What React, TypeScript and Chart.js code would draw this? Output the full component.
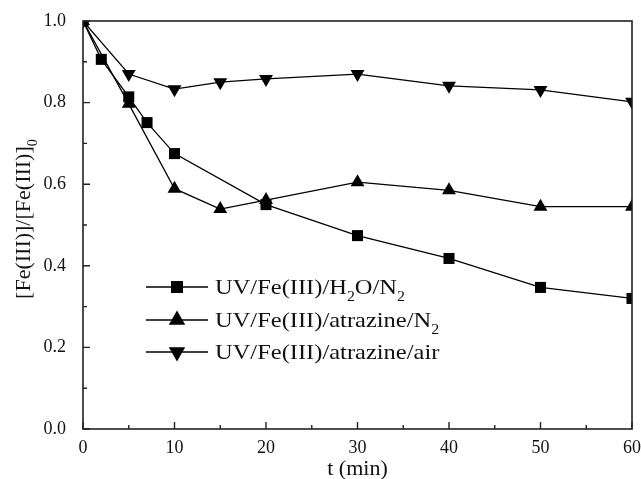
import React, { useEffect, useRef } from "react";
import { Chart, registerables } from "chart.js";

Chart.register(...registerables);

// ---- data ----
const timesH2O = [0, 2, 5, 7, 10, 20, 30, 40, 50, 60];
const valuesH2O = [1.0, 0.906, 0.814, 0.751, 0.675, 0.55, 0.474, 0.418, 0.347, 0.32];
const timesAtr = [0, 5, 10, 15, 20, 30, 40, 50, 60];
const valuesAtrN2 = [1.0, 0.797, 0.589, 0.539, 0.561, 0.605, 0.585, 0.545, 0.545];
const valuesAtrAir = [1.0, 0.87, 0.833, 0.85, 0.858, 0.87, 0.841, 0.831, 0.802];
const seriesLabels = ["UV/Fe(III)/H_2O/N_2", "UV/Fe(III)/atrazine/N_2", "UV/Fe(III)/atrazine/air"];
const seriesMarkers = ["rect", "triangle", "triangleDown"];
const xTickValues = [0, 10, 20, 30, 40, 50, 60];
const yTickValues = [0, 0.2, 0.4, 0.6, 0.8, 1.0];
const xTitle = "t (min)";
const yTitle = "[Fe(III)]/[Fe(III)]_0";

const FONT = '"Liberation Serif", "Times New Roman", serif';
const INK = "#111";

function parseRich(text: string) {
  const segs: { t: string; sub: boolean }[] = [];
  let i = 0;
  let buf = "";
  while (i < text.length) {
    if (text[i] === "_") {
      if (buf) segs.push({ t: buf, sub: false });
      buf = "";
      segs.push({ t: text[i + 1], sub: true });
      i += 2;
    } else {
      buf += text[i];
      i++;
    }
  }
  if (buf) segs.push({ t: buf, sub: false });
  return segs;
}

function richWidth(ctx: CanvasRenderingContext2D, text: string, size: number) {
  let w = 0;
  for (const s of parseRich(text)) {
    ctx.font = `${s.sub ? size * 0.65 : size}px ${FONT}`;
    w += ctx.measureText(s.t).width;
  }
  return w;
}

function drawRich(
  ctx: CanvasRenderingContext2D,
  text: string,
  x: number,
  y: number,
  size: number,
  sx: number,
  align: "left" | "center",
  rotate = 0
) {
  const natural = richWidth(ctx, text, size);
  ctx.save();
  ctx.translate(x, y);
  if (rotate) ctx.rotate(rotate);
  ctx.scale(sx, 1);
  let cx = align === "center" ? -natural / 2 : 0;
  ctx.fillStyle = INK;
  ctx.textBaseline = "alphabetic";
  ctx.textAlign = "left";
  for (const s of parseRich(text)) {
    const fs = s.sub ? size * 0.65 : size;
    ctx.font = `${fs}px ${FONT}`;
    ctx.fillText(s.t, cx, s.sub ? size * 0.33 : 0);
    cx += ctx.measureText(s.t).width;
  }
  ctx.restore();
}

function drawMarker(ctx: CanvasRenderingContext2D, kind: string, x: number, y: number, r: number) {
  ctx.beginPath();
  if (kind === "rect") {
    const h = r * Math.SQRT1_2;
    ctx.rect(x - h, y - h, 2 * h, 2 * h);
  } else {
    const dir = kind === "triangle" ? 1 : -1;
    ctx.moveTo(x, y - dir * r);
    ctx.lineTo(x + r * 0.866, y + dir * r * 0.5);
    ctx.lineTo(x - r * 0.866, y + dir * r * 0.5);
    ctx.closePath();
  }
  ctx.fillStyle = "#000";
  ctx.fill();
}

const framePlugin = {
  id: "frame",
  afterDraw(chart: any) {
    const { ctx, chartArea } = chart;
    const { left, right, top, bottom } = chartArea;
    const xs = chart.scales.x;
    const ys = chart.scales.y;
    ctx.save();
    ctx.strokeStyle = "#222";
    ctx.lineWidth = 1.6;
    ctx.strokeRect(left, top, right - left, bottom - top);
    ctx.lineWidth = 1.4;
    ctx.beginPath();
    for (let v = 0; v <= 60; v += 5) {
      const px = xs.getPixelForValue(v);
      const len = v % 10 === 0 ? 7 : 4;
      ctx.moveTo(px, bottom);
      ctx.lineTo(px, bottom - len);
    }
    for (let k = 0; k <= 10; k++) {
      const v = k / 10;
      const py = ys.getPixelForValue(v);
      const len = k % 2 === 0 ? 7 : 4;
      ctx.moveTo(left, py);
      ctx.lineTo(left + len, py);
    }
    ctx.stroke();

    // axis titles
    drawRich(ctx, xTitle, (left + right) / 2, 475, 21, 1.05, "center");
    drawRich(ctx, yTitle, 30, 219, 22, 1, "center", -Math.PI / 2);

    // legend
    const rows = [287, 320, 352];
    const lsize = 21;
    const lsx = 190 / richWidth(ctx, seriesLabels[0], lsize);
    seriesLabels.forEach((lab, i) => {
      const y = rows[i];
      ctx.strokeStyle = "#000";
      ctx.lineWidth = 1.3;
      ctx.beginPath();
      ctx.moveTo(146, y);
      ctx.lineTo(208, y);
      ctx.stroke();
      drawMarker(ctx, seriesMarkers[i], 177, y, seriesMarkers[i] === "rect" ? 8.5 : 9.5);
      drawRich(ctx, lab, 215, y + 7, lsize, lsx, "left");
    });
    ctx.restore();
  },
};

export default function App() {
  const ref = useRef<HTMLCanvasElement | null>(null);
  useEffect(() => {
    if (!ref.current) return;
    const mk = (xs: number[], ys: number[]) => xs.map((x, i) => ({ x, y: ys[i] }));
    const common = {
      borderColor: "#000",
      backgroundColor: "#000",
      borderWidth: 1.3,
      pointBorderWidth: 0,
      showLine: true,
      tension: 0,
    };
    const chart = new Chart(ref.current, {
      type: "scatter",
      data: {
        datasets: [
          { ...common, label: seriesLabels[0], data: mk(timesH2O, valuesH2O), pointStyle: "rect", pointRadius: 7.8 },
          { ...common, label: seriesLabels[1], data: mk(timesAtr, valuesAtrN2), pointStyle: "triangle", pointRadius: 8 },
          {
            ...common,
            label: seriesLabels[2],
            data: mk(timesAtr, valuesAtrAir),
            pointStyle: "triangle",
            pointRadius: 8,
            pointRotation: 180,
          },
        ],
      },
      options: {
        responsive: false,
        animation: false,
        events: [],
        layout: { padding: { left: 0, top: 21, right: 9, bottom: 0 } },
        plugins: { legend: { display: false }, tooltip: { enabled: false } },
        scales: {
          x: {
            type: "linear",
            min: 0,
            max: 60,
            afterBuildTicks: (s: any) => {
              s.ticks = xTickValues.map((v) => ({ value: v }));
            },
            afterFit: (s: any) => {
              s.height = 50;
            },
            grid: { display: false },
            border: { display: false },
            ticks: { color: INK, font: { family: FONT, size: 18 }, padding: 0, maxRotation: 0 },
          },
          y: {
            type: "linear",
            min: 0,
            max: 1,
            afterBuildTicks: (s: any) => {
              s.ticks = yTickValues.map((v) => ({ value: v }));
            },
            afterFit: (s: any) => {
              s.width = 83;
            },
            grid: { display: false },
            border: { display: false },
            ticks: {
              color: INK,
              font: { family: FONT, size: 18 },
              padding: 9,
              callback: (v: any) => Number(v).toFixed(1),
            },
          },
        },
      },
      plugins: [framePlugin],
    } as any);
    return () => chart.destroy();
  }, []);
  return (
    <div style={{ position: "absolute", left: 0, top: 0, width: 641, height: 479, background: "#fff" }}>
      <canvas ref={ref} width={641} height={479} style={{ display: "block" }} />
    </div>
  );
}
